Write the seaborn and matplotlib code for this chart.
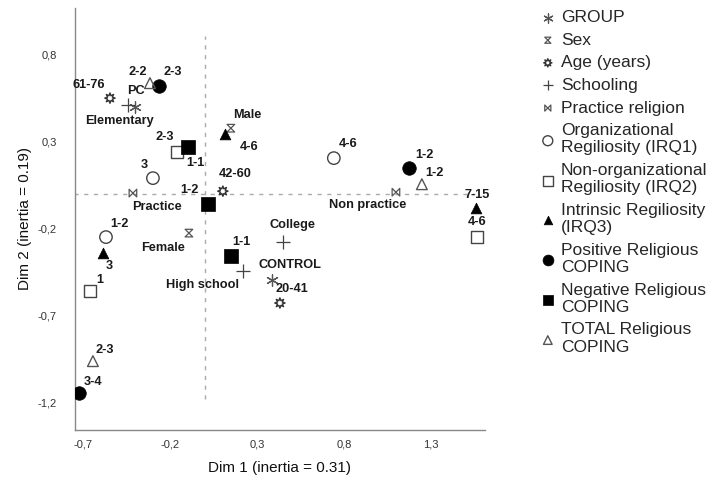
import matplotlib
matplotlib.use("Agg")
import matplotlib.pyplot as plt
from matplotlib.path import Path
from matplotlib.ticker import FuncFormatter
import seaborn as sns

sns.set_theme(style="white")
plt.rcParams['font.family'] = ['Liberation Sans', 'DejaVu Sans']

# ---- data (Dim 1, Dim 2) ----
group_labels = ['PC', 'CONTROL']
group_x = [-0.40, 0.385]
group_y = [0.50, -0.494]

sex_labels = ['Male', 'Female']
sex_x = [0.149, -0.092]
sex_y = [0.379, -0.224]

age_labels = ['61-76', '42-60', '20-41']
age_x = [-0.546, 0.103, 0.431]
age_y = [0.552, 0.017, -0.626]

school_labels = ['Elementary', 'College', 'High school']
school_x = [-0.443, 0.448, 0.218]
school_y = [0.511, -0.276, -0.443]

practice_labels = ['Practice', 'Non practice']
practice_x = [-0.414, 1.098]
practice_y = [0.006, 0.011]

irq1_labels = ['3', '1-2', '4-6']
irq1_x = [-0.299, -0.569, 0.741]
irq1_y = [0.092, -0.247, 0.207]

irq2_labels = ['2-3', '1', '4-6']
irq2_x = [-0.161, -0.661, 1.563]
irq2_y = [0.241, -0.557, -0.247]

irq3_labels = ['4-6', '3', '7-15']
irq3_x = [0.115, -0.586, 1.557]
irq3_y = [0.345, -0.339, -0.080]

pos_labels = ['2-3', '3-4', '1-2']
pos_x = [-0.264, -0.724, 1.172]
pos_y = [0.621, -1.144, 0.149]

neg_labels = ['1-1', '1-2', '1-1']
neg_x = [-0.098, 0.017, 0.149]
neg_y = [0.270, -0.057, -0.356]

total_labels = ['2-2', '2-3', '1-2']
total_x = [-0.316, -0.644, 1.247]
total_y = [0.638, -0.960, 0.057]

# ---- custom marker shapes ----
hourglass = Path([(-1, 1), (1, 1), (-1, -1), (1, -1), (-1, 1)],
                 [Path.MOVETO, Path.LINETO, Path.LINETO, Path.LINETO, Path.CLOSEPOLY])
bowtie = Path([(-1, 1), (1, -1), (1, 1), (-1, -1), (-1, 1)],
              [Path.MOVETO, Path.LINETO, Path.LINETO, Path.LINETO, Path.CLOSEPOLY])

# name, labels, x, y, style, label offsets (pixels)
series = [
    ("GROUP", group_labels, group_x, group_y,
     dict(marker=(6, 2, 0), s=70, color='#555555', linewidth=0.9),
     [(1, 16), (18, 15)]),
    ("Sex", sex_labels, sex_x, sex_y,
     dict(marker=hourglass, s=30, facecolor='none', edgecolor='#555555', linewidth=0.9),
     [(16, 13), (-26, -15)]),
    ("Age (years)", age_labels, age_x, age_y,
     dict(marker=(8, 1, 0), s=55, facecolor='none', edgecolor='#333333', linewidth=1.0),
     [(-21, 13), (12, 17), (12, 14)]),
    ("Schooling", school_labels, school_x, school_y,
     dict(marker='+', s=90, color='#444444', linewidth=0.9),
     [(-8, -16), (10, 17), (-40, -14)]),
    ("Practice religion", practice_labels, practice_x, practice_y,
     dict(marker=bowtie, s=30, facecolor='none', edgecolor='#555555', linewidth=0.9),
     [(24, -14), (-28, -13)]),
    ("Organizational\nRegiliosity (IRQ1)", irq1_labels, irq1_x, irq1_y,
     dict(marker='o', s=80, facecolor='none', edgecolor='#444444', linewidth=1.0),
     [(-9, 13), (13, 13), (14, 14)]),
    ("Non-organizational\nRegiliosity (IRQ2)", irq2_labels, irq2_x, irq2_y,
     dict(marker='s', s=80, facecolor='none', edgecolor='#444444', linewidth=1.0),
     [(-12, 15), (10, 11), (0, 15)]),
    ("Intrinsic Regiliosity\n(IRQ3)", irq3_labels, irq3_x, irq3_y,
     dict(marker='^', s=60, color='black', edgecolor='black', linewidth=0.5),
     [(24, -13), (6, -13), (1, 13)]),
    ("Positive Religious\nCOPING", pos_labels, pos_x, pos_y,
     dict(marker='o', s=95, color='black', edgecolor='black', linewidth=0.5),
     [(14, 14), (14, 11), (16, 13)]),
    ("Negative Religious\nCOPING", neg_labels, neg_x, neg_y,
     dict(marker='s', s=90, color='black', edgecolor='black', linewidth=0.5),
     [(7, -16), (-18, 14), (11, 14)]),
    ("TOTAL Religious\nCOPING", total_labels, total_x, total_y,
     dict(marker='^', s=60, facecolor='none', edgecolor='#555555', linewidth=1.0),
     [(-12, 11), (12, 11), (13, 11)]),
]

fig = plt.figure(figsize=(7.14, 4.83), dpi=100)
ax = fig.add_axes([75 / 714, 53 / 483, 410 / 714, 422 / 483])

# reference lines through the origin
ax.vlines(0, -1.18, 0.91, colors='#aaaaaa', linestyles=(0, (3, 4)), linewidth=1, zorder=0)
ax.hlines(0, -0.75, 1.55, colors='#aaaaaa', linestyles=(0, (3, 4)), linewidth=1, zorder=0)

for name, labels, xs, ys, style, offsets in series:
    sns.scatterplot(x=xs, y=ys, ax=ax, label=name, legend=False, zorder=3, **style)
    for lab, px, py, (dx, dy) in zip(labels, xs, ys, offsets):
        ax.annotate(lab, (px, py), xytext=(dx, dy), textcoords='offset pixels',
                    ha='center', va='center', fontsize=9.2, fontweight='bold',
                    color='#1a1a1a')

ax.set_xlim(-0.747, 1.61)
ax.set_ylim(-1.356, 1.07)
ax.set_xticks([-0.7, -0.2, 0.3, 0.8, 1.3])
ax.set_yticks([-1.2, -0.7, -0.2, 0.3, 0.8])
fmt = FuncFormatter(lambda v, p: f"{v:.1f}".replace('.', ','))
ax.xaxis.set_major_formatter(fmt)
ax.yaxis.set_major_formatter(fmt)
ax.tick_params(length=0, labelsize=8, colors='#333333')
ax.tick_params(axis='x', pad=7)
ax.tick_params(axis='y', pad=13)
for side in ['top', 'right']:
    ax.spines[side].set_visible(False)
for side in ['left', 'bottom']:
    ax.spines[side].set_color('#888888')
    ax.spines[side].set_linewidth(1)

ax.set_xlabel("Dim 1 (inertia = 0.31)", fontsize=11, color='#111111', labelpad=8)
ax.set_ylabel("Dim 2 (inertia = 0.19)", fontsize=11, color='#111111', labelpad=4)

handles, labels = ax.get_legend_handles_labels()
leg = fig.legend(handles, labels, loc='upper left', bbox_to_anchor=(540 / 714, 1 - 10 / 483),
                 frameon=False, fontsize=12.5, handletextpad=0.3, labelspacing=0.43,
                 handlelength=0.9, borderaxespad=0, borderpad=0, markerscale=0.8)

fig.savefig("out.png", dpi=100)
